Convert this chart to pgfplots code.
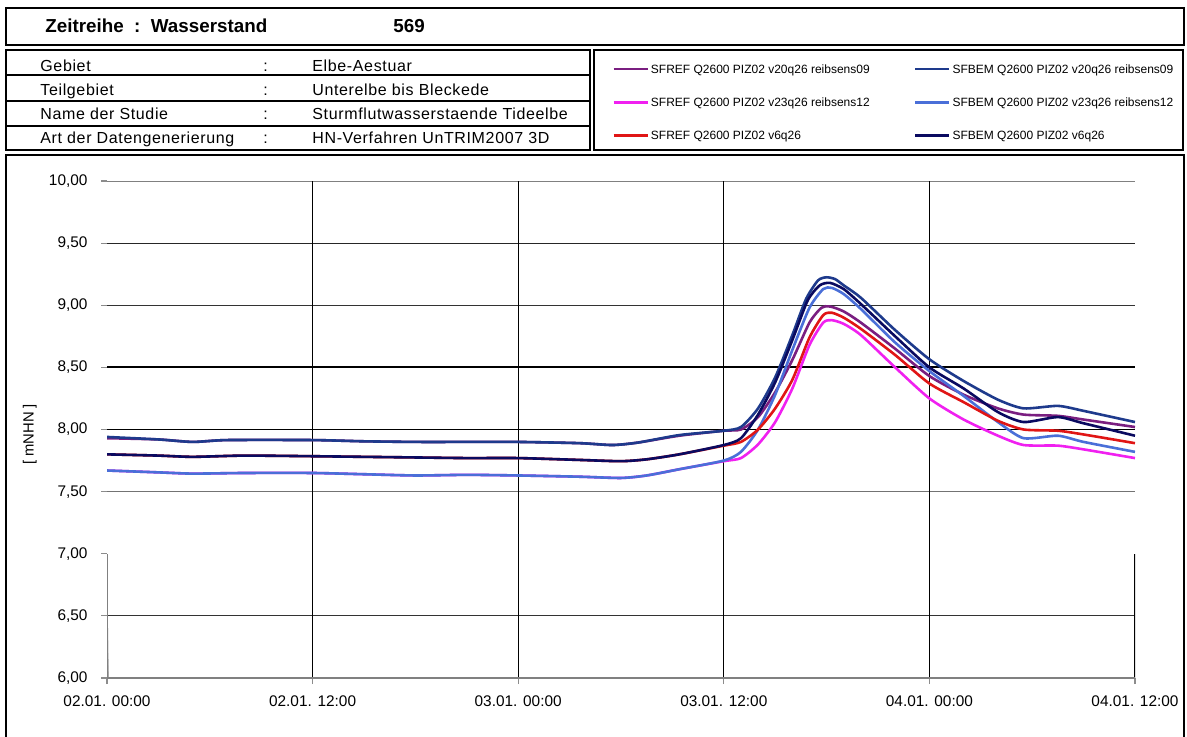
\documentclass[border=0pt]{standalone}
\usepackage{pgfplots}
\pgfplotsset{compat=1.18}
\usepackage{fontspec}
\setmainfont{Liberation Sans}
\definecolor{cREFa}{HTML}{7A1E80}
\definecolor{cBEMa}{HTML}{1E3A8C}
\definecolor{cREFb}{HTML}{F020F0}
\definecolor{cBEMb}{HTML}{4A6FD8}
\definecolor{cREFc}{HTML}{E01515}
\definecolor{cBEMc}{HTML}{0A0A60}
\newcommand{\infofont}{\fontsize{8}{9.6}\selectfont\addfontfeature{LetterSpace=4}}
\begin{document}
\begin{tikzpicture}[x=0.5pt,y=-0.5pt]
\useasboundingbox (0,0) rectangle (1187,737);
% header boxes
\draw[line width=1pt] (6,8) rectangle (1184,45);
\node[anchor=base west,inner sep=0pt,font=\fontsize{9.4}{11}\selectfont\bfseries] at (45,33) {Zeitreihe\ \ :\ \ Wasserstand};
\node[anchor=base west,inner sep=0pt,font=\fontsize{9.4}{11}\selectfont\bfseries] at (393,33) {569};
\draw[line width=1pt] (6,50) rectangle (590,150);
\draw[line width=0.8pt] (6,75) -- (590,75) (6,101) -- (590,101) (6,126) -- (590,126);
\foreach \yy/\lab/\val in {72/Gebiet/Elbe-Aestuar, 96/Teilgebiet/Unterelbe bis Bleckede, 120/Name der Studie/Sturmflutwasserstaende Tideelbe, 144/Art der Datengenerierung/HN-Verfahren UnTRIM2007 3D}{
  \node[anchor=base west,font=\infofont,inner sep=0pt] at (40,\yy) {\lab};
  \node[anchor=base west,font=\infofont,inner sep=0pt] at (263,\yy) {:};
  \node[anchor=base west,font=\infofont,inner sep=0pt] at (312,\yy) {\val};
}
\draw[line width=1pt] (594,50) rectangle (1183,150);
\draw[line width=1pt] (6,155) rectangle (1184,745);
\begin{axis}[
  at={(53.5pt,-339pt)}, anchor=south west,
  scale only axis, width=514pt, height=248.5pt,
  xmin=0, xmax=60, ymin=6, ymax=10,
  axis line style={draw=none},
  xtick={0,12,24,36,48,60},
  xticklabels={02.01. 00:00,02.01. 12:00,03.01. 00:00,03.01. 12:00,04.01. 00:00,04.01. 12:00},
  ytick={6,6.5,...,10},
  xtick pos=bottom, ytick pos=left,
  tick align=outside, major tick length=3pt,
  tick style={black!45, line width=0.6pt},
  x tick label style={yshift=-2.5pt},
  y tick label style={xshift=-3.2pt},
  ticklabel style={font=\fontsize{7.7}{9}\selectfont},
  /pgf/number format/.cd, fixed, fixed zerofill, precision=2, use comma, assume math mode=true,
  /pgfplots/.cd,
  ylabel={[ mNHN ]},
  ylabel style={at={(axis description cs:-0.075,0.49)}, anchor=center, font=\fontsize{7.4}{8}\selectfont},
  legend columns=2,
  legend cell align=left,
  legend style={at={(axis description cs:0.491,1.2395)}, anchor=north west, draw=none, fill=none,
    font=\fontsize{6}{7}\selectfont, inner sep=0pt, row sep=8.9pt,
    nodes={inner sep=1pt},
    /tikz/every even column/.append style={column sep=21pt}},
  legend image code/.code={\draw[#1, line width=1.4pt] (0pt,0.6pt) -- (17pt,0.6pt);},
  every axis plot/.append style={line width=1.3pt, smooth, tension=0.4},
]
% grid and frame decorations
\draw[black!80, line width=0.5pt] (0,6.5) -- (60,6.5);
\draw[black!55, line width=0.5pt] (0,7.5) -- (60,7.5);
\draw[black, line width=0.65pt] (0,8) -- (60,8);
\draw[black, line width=1pt] (0,8.5) -- (60,8.5);
\draw[black!80, line width=0.5pt] (0,9) -- (60,9);
\draw[black!85, line width=0.5pt] (0,9.5) -- (60,9.5);
\draw[black!50, line width=1.3pt] (0,10) -- (60,10);
\pgfplotsinvokeforeach{12,24,36,48}{\draw[black, line width=0.6pt] (#1,6) -- (#1,10);}
\draw[black, line width=1pt] (60,6) -- (60,7);
\draw[black!50, line width=0.8pt] (0,6) -- (60,6);
\draw[black!50, line width=0.8pt] (0,6) -- (0,7);
\pgfplotsinvokeforeach{6.1,6.2,6.3,6.4,6.6,6.7,6.8,6.9}{\draw[black!50, line width=0.5pt] (0,#1) -- ++(3pt,0);}
\pgfplotsinvokeforeach{6,18,30,42,54}{\draw[black!50, line width=0.5pt] (#1,6) -- ++(0,3pt);}
% data
\addplot[cREFa] coordinates {(0,7.93)(3,7.92)(5,7.90)(7,7.915)(12,7.915)(15,7.905)(18,7.90)(21,7.90)(24,7.90)(27.6,7.89)(29.5,7.875)(31,7.895)(33.4,7.95)(36,7.99)(37,8.00)(38,8.10)(39,8.30)(40,8.56)(41,8.86)(41.7,8.98)(42.2,8.99)(43,8.95)(44,8.86)(46,8.65)(48,8.43)(50,8.28)(52,8.17)(53.5,8.12)(55.5,8.11)(57,8.08)(60,8.02)};
\addlegendentry{SFREF Q2600 PIZ02 v20q26 reibsens09}
\addplot[cBEMa] coordinates {(0,7.94)(3,7.92)(5,7.90)(7,7.915)(12,7.915)(15,7.905)(18,7.90)(21,7.90)(24,7.90)(27.6,7.89)(29.5,7.875)(31,7.895)(33.4,7.955)(36,7.99)(37,8.02)(38,8.17)(39,8.42)(40,8.76)(40.8,9.05)(41.5,9.20)(42,9.225)(42.5,9.21)(43,9.16)(44,9.06)(46,8.80)(48,8.565)(50,8.39)(52,8.24)(53.5,8.17)(55.5,8.19)(57,8.15)(60,8.06)};
\addlegendentry{SFBEM Q2600 PIZ02 v20q26 reibsens09}
\addplot[cREFb] coordinates {(0,7.67)(3,7.655)(5,7.645)(8,7.65)(12,7.65)(15,7.64)(18,7.63)(21,7.635)(24,7.63)(27.6,7.62)(30,7.61)(31.5,7.63)(33.4,7.68)(36,7.745)(37,7.77)(38,7.88)(39,8.06)(40,8.33)(41,8.68)(41.8,8.86)(42.3,8.88)(43,8.85)(44,8.76)(46,8.50)(48,8.25)(50,8.08)(52,7.95)(53.5,7.875)(55.5,7.87)(57,7.84)(60,7.77)};
\addlegendentry{SFREF Q2600 PIZ02 v23q26 reibsens12}
\addplot[cBEMb] coordinates {(0,7.67)(3,7.655)(5,7.645)(8,7.65)(12,7.65)(15,7.64)(18,7.63)(21,7.635)(24,7.63)(27.6,7.62)(30,7.61)(31.5,7.63)(33.4,7.68)(36,7.75)(37,7.82)(38,8.00)(39,8.28)(40,8.64)(41,8.98)(41.8,9.13)(42.3,9.14)(43,9.09)(44,8.97)(46,8.70)(48,8.47)(50,8.27)(52,8.06)(53.5,7.93)(55.5,7.95)(57,7.90)(60,7.82)};
\addlegendentry{SFBEM Q2600 PIZ02 v23q26 reibsens12}
\addplot[cREFc] coordinates {(0,7.80)(3,7.79)(5,7.78)(8,7.79)(12,7.785)(15,7.78)(18,7.775)(21,7.77)(24,7.77)(27.6,7.755)(30,7.745)(31.5,7.76)(33.4,7.80)(36,7.87)(37,7.90)(38,8.00)(39,8.17)(40,8.40)(41,8.74)(41.8,8.92)(42.3,8.94)(43,8.90)(44,8.81)(46,8.60)(48,8.37)(50,8.22)(52,8.07)(53.5,8.00)(55.5,7.99)(57,7.96)(60,7.89)};
\addlegendentry{SFREF Q2600 PIZ02 v6q26}
\addplot[cBEMc] coordinates {(0,7.80)(3,7.79)(5,7.78)(8,7.79)(12,7.785)(15,7.78)(18,7.775)(21,7.77)(24,7.77)(27.6,7.755)(30,7.745)(31.5,7.76)(33.4,7.80)(36,7.875)(37,7.93)(38,8.12)(39,8.38)(40,8.72)(40.9,9.04)(41.6,9.16)(42.2,9.18)(43,9.13)(44,9.01)(46,8.75)(48,8.50)(50,8.33)(52,8.14)(53.5,8.06)(55.5,8.10)(57,8.05)(60,7.95)};
\addlegendentry{SFBEM Q2600 PIZ02 v6q26}
\end{axis}
\end{tikzpicture}
\end{document}
